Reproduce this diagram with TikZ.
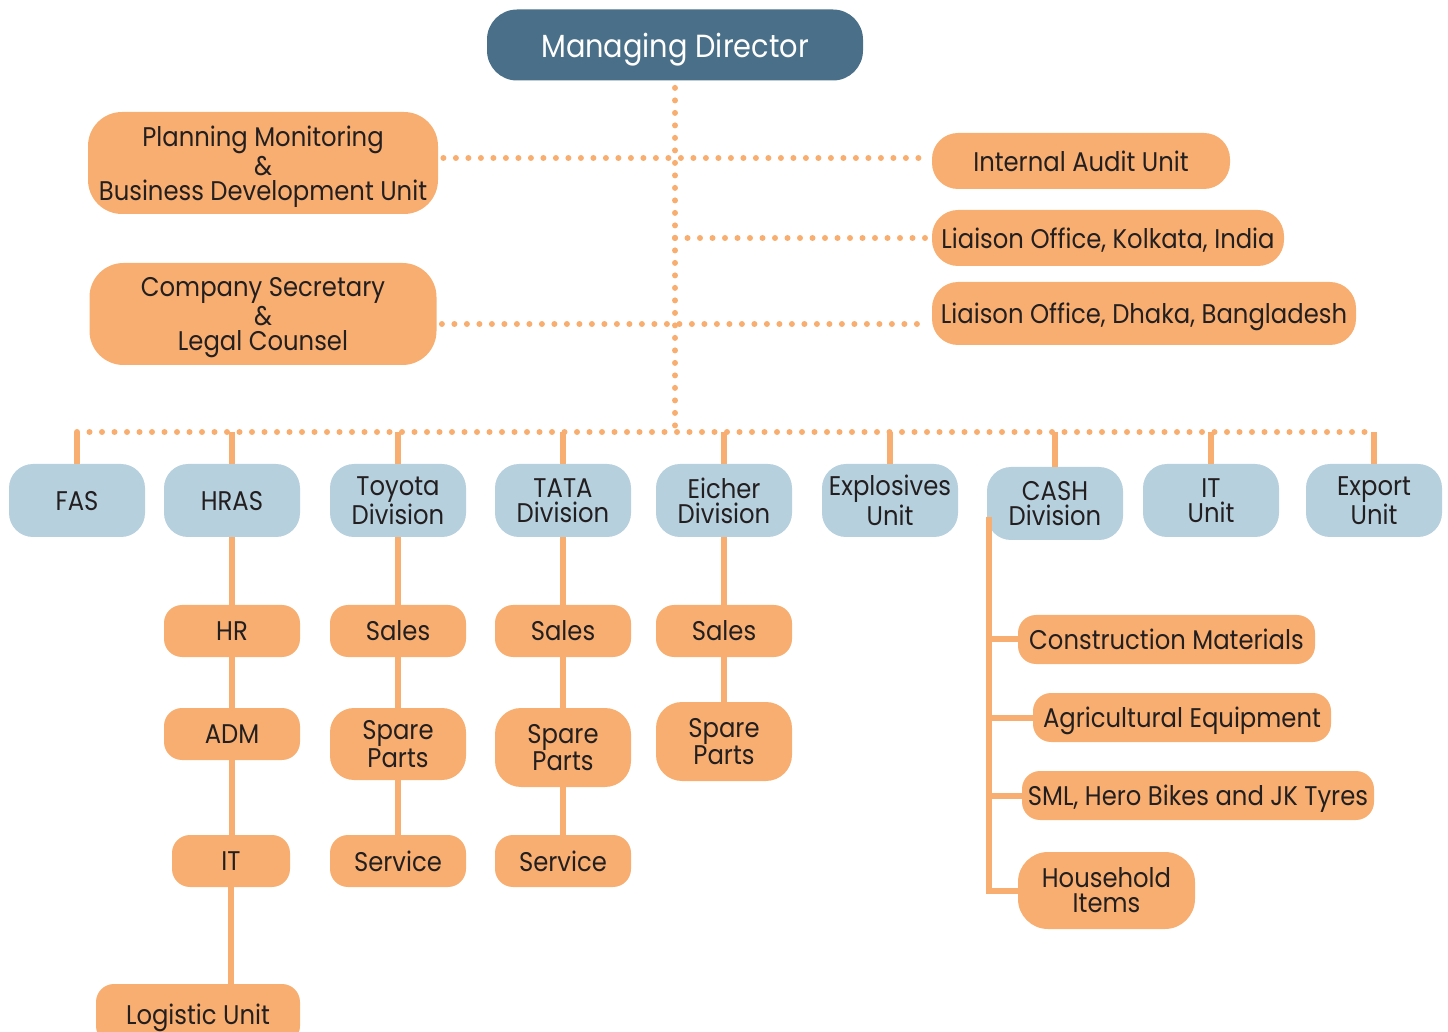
\documentclass[tikz,border=0pt]{standalone}
\usepackage{fontspec}
\setmainfont{Poppins}[FakeStretch=0.9]
\usetikzlibrary{calc}

\definecolor{mdblue}{HTML}{4A7089}
\definecolor{divblue}{HTML}{B6D0DE}
\definecolor{unitorange}{HTML}{F8AE70}
\definecolor{ink}{HTML}{231F20}

\begin{document}
\begin{tikzpicture}[x=0.5pt,y=-0.5pt,
    box/.style={align=center,inner sep=0pt,text depth=0pt,text=ink,font=\fontsize{13.5}{12.5}\selectfont},
    head/.style={box,fill=mdblue,text=white,minimum width=188pt,minimum height=35.5pt,
      rounded corners=15pt,font=\fontsize{16}{18}\selectfont},
    side/.style={box,fill=unitorange,rounded corners=13pt},
    division/.style={box,fill=divblue,minimum width=68pt,minimum height=36.5pt,rounded corners=12pt},
    unit/.style={box,fill=unitorange,minimum width=68pt,minimum height=26pt,rounded corners=9pt},
    dots/.style={draw=unitorange,line width=3pt,line cap=round,dash pattern=on 0pt off 6.25pt},
    link/.style={draw=unitorange,line width=3pt}]
    \useasboundingbox (0,0) rectangle (1448,1032);

    % top
    \node[head] (md) at (675,45) {Managing Director};
    \node[side,minimum width=175pt,minimum height=51pt,rounded corners=17pt] (plan) at (263,163)
      {Planning Monitoring\\\&\\Business Development Unit};
    \node[side,minimum width=173.5pt,minimum height=51pt,rounded corners=17pt] (secretary) at (263,314)
      {Company Secretary\\\&\\Legal Counsel};
    \node[side,minimum width=149pt,minimum height=28pt] (audit) at (1081,161) {Internal Audit Unit};
    \node[side,minimum width=176pt,minimum height=28pt] (kolkata) at (1108,238) {Liaison Office, Kolkata, India};
    \node[side,minimum width=212pt,minimum height=31.5pt] (dhaka) at (1144,313.5) {Liaison Office, Dhaka, Bangladesh};
    \coordinate (bus) at (675,432);

    % divisions
    \foreach \n/\x/\y/\t in {fas/77/500.5/FAS, hras/232/500.5/HRAS, toyota/398/500.5/{Toyota\\Division},
        tata/563/500.5/{TATA\\Division}, eicher/724/500.5/{Eicher\\Division},
        explosives/890/500.5/{Explosives\\Unit}, cash/1055/503.5/{CASH\\Division},
        itunit/1211/500.5/{IT\\Unit}, export/1374/500.5/{Export\\Unit}}
      \node[division] (\n) at (\x,\y) {\t};

    % units
    \node[unit] (hr) at (232,631) {HR};
    \node[unit] (adm) at (232,734) {ADM};
    \node[unit,minimum width=59pt] (it) at (231,861) {IT};
    \node[unit,minimum width=102pt,minimum height=30pt] (logistic) at (198,1014) {Logistic Unit};
    \node[unit] (tsales) at (398,631) {Sales};
    \node[unit,minimum height=36pt,rounded corners=12pt] (tspare) at (398,744) {Spare\\Parts};
    \node[unit] (tservice) at (398,861) {Service};
    \node[unit] (asales) at (563,631) {Sales};
    \node[unit,minimum height=39.5pt,rounded corners=13pt] (aspare) at (563,747.5) {Spare\\Parts};
    \node[unit] (aservice) at (563,861) {Service};
    \node[unit] (esales) at (724,631) {Sales};
    \node[unit,minimum height=39.5pt,rounded corners=13pt] (espare) at (724,741.5) {Spare\\Parts};
    \node[unit,minimum width=148.5pt,minimum height=24.5pt] (constr) at (1166.5,639.5) {Construction Materials};
    \node[unit,minimum width=149pt,minimum height=24.5pt] (agri) at (1182,717.5) {Agricultural Equipment};
    \node[unit,minimum width=176pt,minimum height=24.5pt] (sml) at (1198,795.5) {SML, Hero Bikes and JK Tyres};
    \node[unit,minimum width=88.5pt,minimum height=38.5pt,rounded corners=15pt] (house) at (1106.5,890.5) {Household\\Items};

    % dotted links
    \draw[dots,shorten <=3.5pt] (md.south) -- (bus);
    \draw[dots,shorten <=2.5pt,shorten >=3.5pt] ([yshift=2.5pt]plan.east) -- ([yshift=2.5pt]plan.east -| audit.west);
    \draw[dots,shorten >=1pt] (kolkata.west -| md) -- (kolkata.west);
    \draw[dots,shorten <=2.5pt,shorten >=3.5pt] ([yshift=-5pt]secretary.east) -- ([yshift=-5pt]secretary.east -| dhaka.west);
    \draw[dots] (fas.north |- bus) -- (export.north |- bus);

    % solid links
    \foreach \n in {fas,hras,toyota,tata,eicher,explosives,cash,itunit,export}
      \draw[link] (\n.north |- bus) -- (\n.north);
    \foreach \a/\b in {hras/hr,hr/adm,adm/it,it/logistic,toyota/tsales,tsales/tspare,tspare/tservice,
        tata/asales,asales/aspare,aspare/aservice,eicher/esales,esales/espare}
      \draw[link] (\a.south) -- (\a.south |- \b.north);
    \coordinate (ctop) at (989,517);
    \draw[link] (ctop) -- (ctop |- house.west) -- (house.west);
    \foreach \n in {constr,agri,sml}
      \draw[link] (ctop |- \n.west) -- (\n.west);
\end{tikzpicture}
\end{document}
